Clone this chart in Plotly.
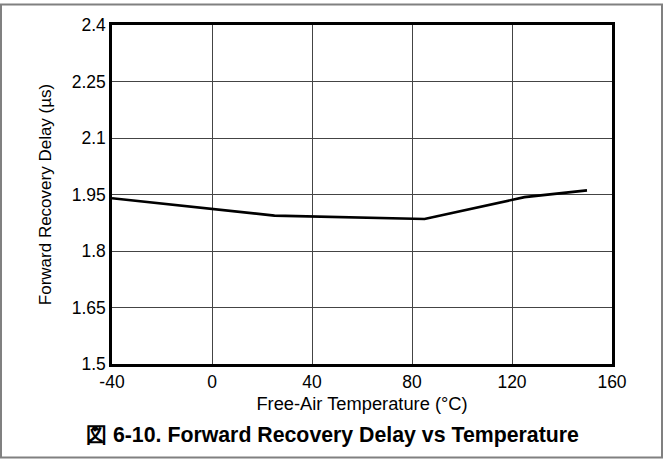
import plotly.graph_objects as go

temps = [-40, 25, 85, 125, 150]
delay_us = [1.940, 1.894, 1.885, 1.943, 1.961]

x_ticks = [-40, 0, 40, 80, 120, 160]
y_ticks = [1.5, 1.65, 1.8, 1.95, 2.1, 2.25, 2.4]
y_tick_text = ["1.5", "1.65", "1.8", "1.95", "2.1", "2.25", "2.4"]

W, H = 663, 459
L, R, T, B = 112, 51, 25, 95
pw, ph = W - L - R, H - T - B

FONT = "Liberation Sans, Arial, sans-serif"

fig = go.Figure()
fig.add_trace(go.Scatter(x=temps, y=delay_us, mode="lines",
                         line=dict(color="black", width=2.6), showlegend=False,
                         hoverinfo="skip"))

fig.update_layout(
    width=W, height=H,
    margin=dict(l=L, r=R, t=T, b=B),
    paper_bgcolor="white", plot_bgcolor="white",
    font=dict(family=FONT, color="black", size=17),
    xaxis=dict(range=[-40, 160], tickvals=x_ticks, ticktext=[str(v) for v in x_ticks],
               showgrid=True, gridcolor="#444", gridwidth=1, zeroline=False,
               showline=True, linecolor="black", linewidth=2.5, mirror=True,
               ticks="", tickfont=dict(size=17.5),
               title=dict(text="Free-Air Temperature (°C)", font=dict(size=18.3), standoff=7)),
    yaxis=dict(range=[1.5, 2.4], tickvals=y_ticks, ticktext=y_tick_text,
               showgrid=True, gridcolor="#444", gridwidth=1, zeroline=False,
               showline=True, linecolor="black", linewidth=2.5, mirror=True,
               ticks="", tickfont=dict(size=17.5),
               title=dict(text="Forward Recovery Delay (µs)", font=dict(size=17), standoff=16)),
    annotations=[dict(text="<b>図 6-10. Forward Recovery Delay vs Temperature</b>",
                      xref="paper", yref="paper", x=(332 - L) / pw, y=(H - B - 435) / ph,
                      xanchor="center", yanchor="middle", showarrow=False,
                      font=dict(size=21.3, family=FONT, color="black"))],
    shapes=[dict(type="rect", xref="paper", yref="paper",
                 x0=(1 - L) / pw, x1=(662 - L) / pw,
                 y0=(H - B - 457.5) / ph, y1=(H - B - 4.5) / ph,
                 line=dict(color="#808080", width=2), fillcolor="rgba(0,0,0,0)", layer="below")],
)

fig.write_html("out.html", config={"displayModeBar": False},
               post_script="document.body.style.margin='0';document.body.style.overflow='hidden';")
